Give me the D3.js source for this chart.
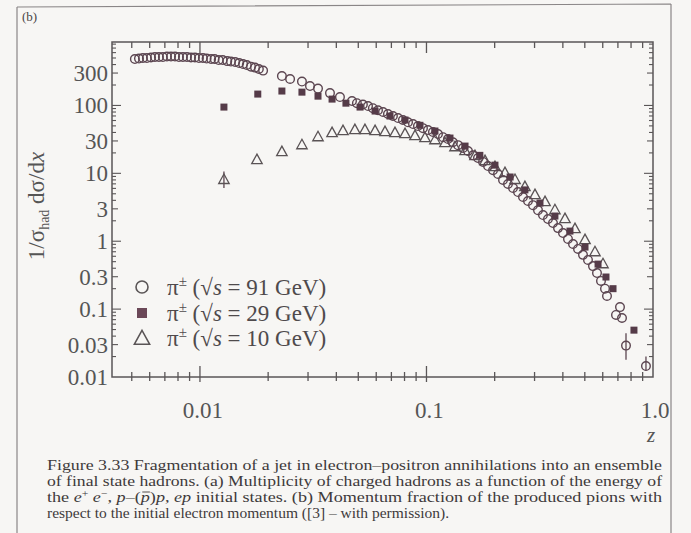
<!DOCTYPE html>
<html><head><meta charset="utf-8">
<script src="https://cdn.jsdelivr.net/npm/d3@7"></script>
<style>body{margin:0;background:#f7f6f4}svg{display:block}</style>
</head><body>
<svg id="c" width="691" height="533"></svg>
<script>
// ---- data ----
const z91 = [0.00516,0.00538,0.00560,0.00583,0.00608,0.00633,0.00659,0.00686,0.00715,0.00745,0.00776,0.00808,0.00841,0.00876,0.00913,0.00950,0.00990,0.0103,0.0107,0.0112,0.0116,0.0121,0.0126,0.0132,0.0137,0.0143,0.0149,0.0155,0.0161,0.0168,0.0175,0.0182,0.0190,
  0.0230,0.0250,0.0282,0.0306,0.0332,0.0375,0.0415,0.0469,0.0493,0.0524,0.0552,0.0580,0.0611,0.0643,0.0676,0.0711,0.0749,0.0787,0.0829,0.0872,0.0917,0.0965,0.1015,0.1068,0.1124,0.1183,0.1244,0.1309,0.1378,0.1450,0.1525,0.1605,0.1688,0.1777,0.1869,0.1967,0.2069,0.2177,0.2290,0.2410,0.2535,0.2667,0.2806,0.2953,0.3107,0.3268,0.3439,0.3618,0.3807,0.4005,0.4214,0.4434,0.4666,0.4908,0.5164,0.5433,0.5659,0.5894,0.6139,0.6265,0.715,0.6865,0.7297,0.760,0.931];
const v91 = [482,490,499,499,508,516,516,516,525,525,525,516,516,516,508,508,499,499,490,482,482,466,466,450,443,436,421,407,394,373,361,344,326,
  271,245,225,193,177,152,133,116,108,103,98,91,85,80,74.6,69.8,65.2,61,56.5,53.2,49.7,46.3,43.4,40.6,37.9,34.1,32.0,28.7,26.0,23.6,21.3,18.4,16.8,14.7,12.8,11.1,9.77,8.0,6.96,6.1,5.30,4.48,3.91,3.40,2.87,2.43,2.12,1.85,1.56,1.32,1.08,0.91,0.77,0.63,0.53,0.43,0.34,0.26,0.20,0.156,0.107,0.082,0.074,0.029,0.0145];
const z29 = [0.01276,0.0180,0.0230,0.0282,0.0332,0.0383,0.0441,0.0509,0.0593,0.0690,0.0804,0.0936,0.109,0.127,0.148,0.172,0.2006,0.234,0.272,0.317,0.369,0.430,0.501,0.572,0.620,0.666,0.824];
const v29 = [94.6,147,163,157,137,124,108,94.6,82.7,69.8,61,51,42,33.1,25.2,18.4,13.2,8.83,5.7,3.65,2.35,1.41,0.82,0.46,0.297,0.20,0.049];
const z10 = [0.01276,0.01785,0.0230,0.0282,0.0332,0.0383,0.0428,0.0483,0.0535,0.0593,0.0656,0.0726,0.0804,0.0890,0.0985,0.109,0.1207,0.1336,0.148,0.1637,0.1813,0.2006,0.2221,0.2459,0.272,0.3013,0.3337,0.369,0.4088,0.4525,0.501,0.5544,0.6015];
const v10 = [8.0,15.7,20.6,26.0,34.1,39.2,42,43.4,43.4,42,40.6,39.2,37.9,35.4,33.1,30.8,27.9,24.3,21.3,18.0,15.2,12.4,10.1,8.0,6.28,4.79,3.78,2.87,2.12,1.51,1.04,0.69,0.46];
// error bars [z, low, high]
const err10 = [[0.01276,6.1,10.6]];
const err91 = [[0.760,0.018,0.044],[0.931,0.0125,0.020]];
const yTickLabels = [0.01,0.03,0.1,0.3,1,3,10,30,100,300];
const yTickText = ["0.01","0.03","0.1","0.3","1","3","10","30","100","300"];
const xTickLabels = [0.01,0.1,1];
const xTickText = ["0.01","0.1","1.0"];
const legendLabels = ["91","29","10"];
const captionLines = [
 "Figure 3.33   Fragmentation of a jet in electron\u2013positron annihilations into an ensemble",
 "of final state hadrons. (a) Multiplicity of charged hadrons as a function of the energy of",
 null,
 "respect to the initial electron momentum ([3] \u2013 with permission)."
];

// ---- drawing ----
const svg = d3.select("#c");
const serif = "'Liberation Serif','DejaVu Serif',serif";
const ink = "#4a4547", mark = "#5c4651", axisC = "#5a5657";

svg.append("rect").attr("width",691).attr("height",533).attr("fill","#f7f6f4");
svg.append("path").attr("d","M17,7 L671,4 M17,7 L17,533 M671,4 L671,533")
  .attr("stroke","#8a8687").attr("stroke-width",1.2).attr("fill","none");
svg.append("text").attr("x",22).attr("y",21).attr("font-family",serif).attr("font-size",13).attr("fill",ink).text("(b)");

const X0=112, X1=653, Y0=377, Y1=42;
const x = d3.scaleLog().domain([0.00409,1]).range([X0,X1]);
const y = d3.scaleLog().domain([0.01,860]).range([Y0,Y1]);

// frame
svg.append("rect").attr("x",X0).attr("y",Y1).attr("width",X1-X0).attr("height",Y0-Y1)
  .attr("fill","none").attr("stroke",axisC).attr("stroke-width",1.5);

// x ticks
const isDec = v => Math.abs(Math.log10(v)-Math.round(Math.log10(v)))<1e-6;
const xt = x.ticks().filter(v=>v>0.0041 && v<0.999);
const gx = svg.append("g").attr("stroke",axisC).attr("stroke-width",1.3);
xt.forEach(v=>{
  const px=x(v), big=isDec(v);
  gx.append("line").attr("x1",px).attr("x2",px).attr("y1",Y0-(big?11:5)).attr("y2",Y0+(big?5:4));
  gx.append("line").attr("x1",px).attr("x2",px).attr("y1",Y1).attr("y2",Y1+(big?11:6));
});
// y ticks
const yt = y.ticks().filter(v=>v>0.0101 && v<860);
const gy = svg.append("g").attr("stroke",axisC).attr("stroke-width",1.1);
yt.forEach(v=>{
  const py=y(v), big=isDec(v), mid=yTickLabels.includes(v);
  const L = big?9:(mid?6:4);
  gy.append("line").attr("x1",X0).attr("x2",X0+L).attr("y1",py).attr("y2",py);
  gy.append("line").attr("x1",X1-L).attr("x2",X1).attr("y1",py).attr("y2",py);
});
// y tick labels
yTickLabels.forEach((v,i)=>{
  svg.append("text").attr("x",X0-4).attr("y",y(v)+8).attr("text-anchor","end")
    .attr("font-family",serif).attr("font-size",23).attr("fill","#555").text(yTickText[i]);
});
xTickLabels.forEach((v,i)=>{
  svg.append("text").attr("x",x(v)+(i==2?2:3)).attr("y",418).attr("text-anchor","middle")
    .attr("font-family",serif).attr("font-size",23).attr("fill","#555").text(xTickText[i]);
});
svg.append("text").attr("x",651).attr("y",442).attr("text-anchor","middle").attr("font-family",serif)
  .attr("font-style","italic").attr("font-size",21).attr("fill","#555").text("z");

// y title
const yt0 = svg.append("text").attr("transform","translate(44,206) rotate(-90)").attr("text-anchor","middle")
  .attr("font-family",serif).attr("font-size",23).attr("fill","#555");
yt0.append("tspan").text("1/\u03c3");
yt0.append("tspan").attr("font-size",14).attr("dy",5).text("had");
yt0.append("tspan").attr("dy",-5).text(" d\u03c3/d");
yt0.append("tspan").attr("font-style","italic").text("x");

// error bars
const ge = svg.append("g").attr("stroke",mark).attr("stroke-width",1.3);
err10.concat(err91).forEach(e=>{
  ge.append("line").attr("x1",x(e[0])).attr("x2",x(e[0])).attr("y1",y(e[1])).attr("y2",y(e[2]));
});

// markers
const tri = (s)=>`M0,${-s*0.62}L${s*0.55},${s*0.38}L${-s*0.55},${s*0.38}Z`;
const d10 = z10.map((z,i)=>({z,v:v10[i]}));
const d29 = z29.map((z,i)=>({z,v:v29[i]}));
const d91 = z91.map((z,i)=>({z,v:v91[i]}));
svg.append("g").selectAll("path").data(d10).join("path")
  .attr("d",tri(9.5)).attr("transform",d=>`translate(${x(d.z)},${y(d.v)})`)
  .attr("fill","none").attr("stroke","#5a5355").attr("stroke-width",1.3);
svg.append("g").selectAll("circle").data(d91).join("circle")
  .attr("cx",d=>x(d.z)).attr("cy",d=>y(d.v)).attr("r",4.3)
  .attr("fill","none").attr("stroke",mark).attr("stroke-width",1.4);
svg.append("g").selectAll("rect").data(d29).join("rect")
  .attr("x",d=>x(d.z)-3.5).attr("y",d=>y(d.v)-3.5).attr("width",7).attr("height",7)
  .attr("fill","#553b48");

// legend
const ly = [287,313,338];
svg.append("circle").attr("cx",142).attr("cy",ly[0]).attr("r",6).attr("fill","none").attr("stroke","#5a5556").attr("stroke-width",1.6);
svg.append("rect").attr("x",137).attr("y",ly[1]-5).attr("width",10).attr("height",10).attr("fill","#6b4858");
svg.append("path").attr("d",tri(14)).attr("transform",`translate(142,${ly[2]+1})`).attr("fill","none").attr("stroke","#5a5556").attr("stroke-width",1.5);
legendLabels.forEach((lab,i)=>{
  const t = svg.append("text").attr("x",167).attr("y",ly[i]+8).attr("font-family",serif).attr("font-size",23).attr("fill","#4f4a4c");
  t.append("tspan").text("\u03c0");
  t.append("tspan").attr("font-size",15).attr("dy",-9).text("\u00b1");
  t.append("tspan").attr("dy",9).text(" (\u221a");
  t.append("tspan").attr("font-style","italic").text("s");
  t.append("tspan").text(" = "+lab+" GeV)");
});

// caption
const cap = svg.append("g").attr("font-family",serif).attr("font-size",15.5).attr("fill","#3e3a3b");
cap.append("text").attr("x",47).attr("y",470).attr("textLength",615).attr("lengthAdjust","spacingAndGlyphs").text(captionLines[0]);
cap.append("text").attr("x",47).attr("y",486).attr("textLength",615).attr("lengthAdjust","spacingAndGlyphs").text(captionLines[1]);
const l3 = cap.append("text").attr("x",47).attr("y",502).attr("textLength",615).attr("lengthAdjust","spacingAndGlyphs");
l3.append("tspan").text("the ");
l3.append("tspan").attr("font-style","italic").text("e");
l3.append("tspan").attr("font-size",10).attr("dy",-5).text("+");
l3.append("tspan").attr("dy",5).text(" ");
l3.append("tspan").attr("font-style","italic").text("e");
l3.append("tspan").attr("font-size",10).attr("dy",-5).text("\u2212");
l3.append("tspan").attr("dy",5).text(", ");
l3.append("tspan").attr("font-style","italic").text("p");
l3.append("tspan").text("\u2013(");
l3.append("tspan").attr("font-style","italic").text("p");
l3.append("tspan").text(")");
l3.append("tspan").attr("font-style","italic").text("p");
l3.append("tspan").text(", ");
l3.append("tspan").attr("font-style","italic").text("ep");
l3.append("tspan").text(" initial states. (b) Momentum fraction of the produced pions with");
cap.append("text").attr("x",47).attr("y",518).text(captionLines[3]);
// bar over the anti-proton p
try {
  const ext = l3.node().getExtentOfChar(14);
  cap.append("line").attr("x1",ext.x+1.5).attr("x2",ext.x+ext.width).attr("y1",492).attr("y2",492)
    .attr("stroke","#3e3a3b").attr("stroke-width",0.9);
} catch(e) {}
</script>
</body></html>
